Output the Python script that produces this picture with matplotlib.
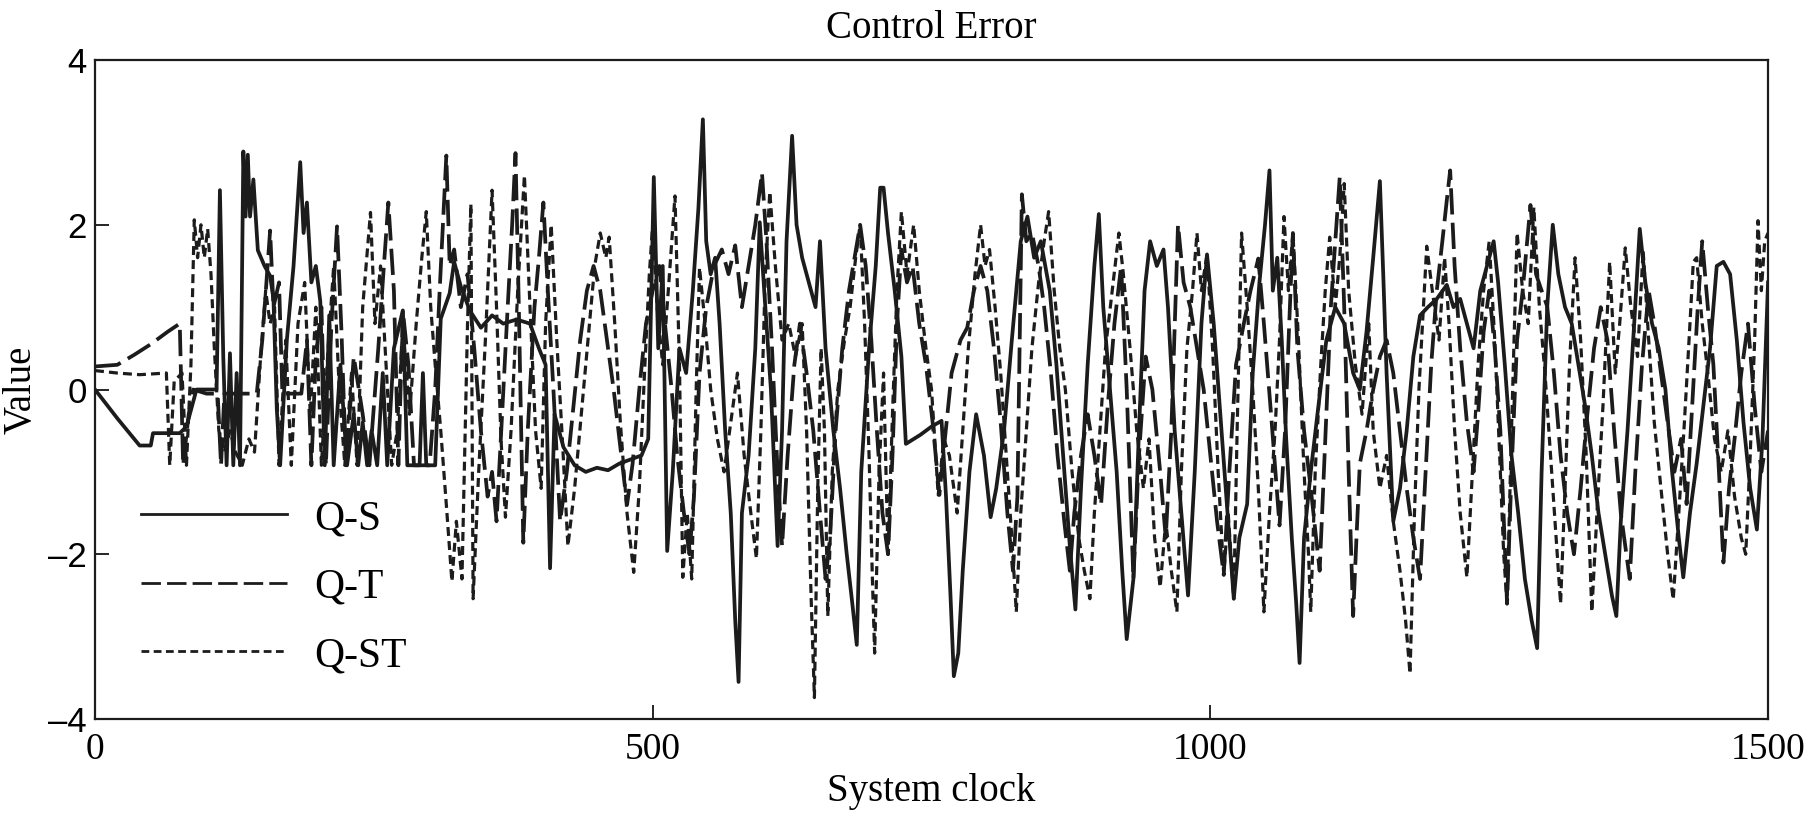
import matplotlib

matplotlib.use("Agg")
import matplotlib.pyplot as plt


# Q-S (solid) turning points
QS_T = [0, 20, 40, 50, 52, 76, 82, 91, 109, 112, 115, 118, 121, 124, 127, 130, 133, 135, 137, 139,
        142, 146, 152, 157, 160, 163, 166, 172, 178, 184, 187, 190, 194, 198, 202, 206, 210, 214, 220, 226,
        232, 236, 240, 244, 248, 253, 258, 262, 268, 276, 280, 291, 294, 297, 305, 310, 318, 322, 328, 336,
        346, 356, 366, 378, 390, 398, 404, 408, 412, 420, 430, 440, 450, 460, 470, 480, 490, 496, 501, 505,
        509, 513, 518, 524, 530, 536, 541, 545, 548, 552, 556, 560, 565, 570, 574, 577, 580, 586, 592, 596,
        600, 606, 612, 616, 620, 625, 629, 634, 640, 646, 650, 655, 662, 668, 674, 679, 683, 687, 694, 700,
        704, 707, 711, 717, 723, 727, 740, 750, 759, 763, 767, 770, 774, 778, 784, 790, 797, 803, 808, 815,
        822, 830, 836, 842, 848, 856, 862, 868, 874, 879, 884, 890, 896, 900, 904, 910, 916, 921, 925, 931,
        936, 941, 946, 952, 958, 962, 968, 974, 980, 986, 992, 997, 1003, 1010, 1016, 1021, 1026, 1033, 1038, 1044,
        1049, 1053, 1056, 1060, 1064, 1068, 1073, 1077, 1080, 1084, 1090, 1096, 1104, 1112, 1120, 1128, 1134, 1140, 1146, 1152,
        1155, 1158, 1164, 1170, 1176, 1182, 1188, 1195, 1203, 1212, 1218, 1224, 1230, 1236, 1242, 1248, 1254, 1258, 1264, 1270,
        1276, 1282, 1288, 1293, 1297, 1302, 1307, 1312, 1318, 1324, 1330, 1336, 1342, 1348, 1354, 1360, 1364, 1368, 1374, 1380,
        1385, 1390, 1396, 1402, 1408, 1414, 1420, 1424, 1430, 1436, 1442, 1448, 1454, 1460, 1466, 1472, 1478, 1484, 1490, 1495,
        1500]
QS_V = [0.0, -0.35, -0.68, -0.68, -0.53, -0.53, -0.45, 0.0, 0.0, 2.42, 0.4, -0.92, 0.44, -0.92, 0.2, -0.92, 2.89, 2.1, 2.85, 2.1,
        2.55, 1.69, 1.5, 1.38, 1.1, -0.24, -0.92, 0.6, 1.5, 2.76, 1.9, 2.27, 1.3, 1.5, 1.07, -0.92, 0.9, -0.92, 0.3, -0.92,
        -0.3, -0.92, -0.4, -0.92, -0.5, -0.92, 0.2, -0.92, 0.5, 0.96, -0.92, -0.92, 0.2, -0.92, -0.92, 0.86, 1.17, 1.55, 1.25, 0.96,
        0.75, 0.9, 0.8, 0.85, 0.8, 0.5, 0.3, -2.17, -0.3, -0.7, -0.92, -1.0, -0.95, -0.98, -0.9, -0.85, -0.8, -0.6, 2.58, 0.5,
        1.5, -1.96, -1.0, 0.5, 0.2, 1.2, 2.2, 3.28, 1.8, 1.4, 1.6, 0.8, -0.5, -1.5, -2.8, -3.55, -1.5, -0.8, 0.5, 2.03,
        1.2, 0.0, -1.9, -0.5, 1.8, 3.08, 2.0, 1.6, 1.3, 1.0, 1.8, 0.5, -0.5, -1.2, -2.0, -2.6, -3.1, -1.0, 0.5, 1.5,
        2.45, 2.45, 1.9, 1.2, 0.4, -0.66, -0.55, -0.45, -0.38, -1.3, -2.5, -3.48, -3.2, -2.2, -1.0, -0.3, -0.8, -1.55, -1.2, -0.5,
        0.6, 1.8, 2.1, 1.6, 1.8, 1.2, 0.3, -0.8, -1.9, -2.67, -1.2, 0.3, 1.5, 2.13, 1.0, 0.0, -1.0, -2.2, -3.03, -2.3,
        -0.5, 1.2, 1.8, 1.5, 1.7, 1.0, -0.5, -1.5, -2.5, -1.0, 0.8, 1.64, 0.8, -0.5, -1.6, -2.54, -1.8, -1.39, 0.2, 1.3,
        2.0, 2.66, 1.2, 1.6, 0.6, -0.6, -1.8, -2.6, -3.32, -1.8, -1.0, -0.3, 0.6, 1.0, 0.8, 0.2, 0.0, 0.7, 1.6, 2.53,
        1.4, 0.2, -1.6, -1.2, -0.5, 0.4, 0.9, 1.0, 1.1, 1.27, 1.0, 1.1, 0.8, 0.5, 1.2, 1.5, 1.8, 1.3, 0.3, -0.8,
        -1.5, -2.3, -2.8, -3.14, -1.0, 1.0, 2.0, 1.4, 1.0, 0.8, 0.3, -0.2, -0.8, -1.5, -2.0, -2.5, -2.75, -1.6, -0.5, 0.8,
        1.95, 1.3, 0.8, 0.5, 0.0, -1.0, -1.8, -2.28, -1.5, -0.9, -0.2, 0.5, 1.5, 1.55, 1.4, 0.6, -0.4, -1.2, -1.7, -0.6,
        1.3]

# Q-T (long dashes)
QT_T = [0, 20, 35, 50, 65, 76, 79, 84, 88, 100, 110, 113, 116, 130, 145, 150, 157, 160, 165, 168,
        185, 190, 194, 198, 203, 207, 212, 217, 221, 225, 232, 240, 246, 254, 259, 263, 268, 272, 276, 281,
        286, 300, 305, 309, 315, 318, 322, 328, 334, 340, 346, 352, 356, 360, 365, 370, 374, 377, 380, 384,
        388, 394, 398, 402, 406, 411, 417, 423, 429, 435, 441, 447, 453, 459, 465, 471, 477, 482, 488, 494,
        500, 506, 511, 517, 522, 528, 533, 537, 542, 548, 555, 562, 568, 574, 580, 586, 592, 598, 602, 607,
        612, 616, 621, 627, 632, 638, 644, 650, 655, 659, 664, 670, 676, 681, 686, 691, 696, 701, 706, 711,
        715, 719, 723, 728, 733, 739, 745, 751, 757, 762, 768, 776, 782, 788, 794, 800, 806, 812, 818, 823,
        827, 831, 835, 840, 846, 851, 857, 863, 869, 874, 878, 884, 890, 896, 902, 908, 914, 920, 925, 931,
        936, 942, 948, 955, 960, 965, 971, 976, 982, 988, 994, 1000, 1006, 1012, 1017, 1023, 1030, 1036, 1043, 1048,
        1055, 1062, 1067, 1071, 1074, 1078, 1084, 1090, 1098, 1104, 1108, 1112, 1116, 1120, 1124, 1128, 1131, 1134, 1140, 1146,
        1152, 1158, 1164, 1170, 1176, 1182, 1188, 1193, 1198, 1203, 1208, 1212, 1215, 1219, 1224, 1230, 1236, 1240, 1245, 1250,
        1255, 1260, 1266, 1270, 1275, 1280, 1287, 1292, 1297, 1302, 1308, 1314, 1320, 1326, 1332, 1338, 1344, 1350, 1356, 1362,
        1368, 1376, 1381, 1387, 1393, 1398, 1404, 1410, 1416, 1422, 1427, 1432, 1437, 1441, 1446, 1451, 1456, 1460, 1465, 1470,
        1476, 1482, 1488, 1494, 1500]
QT_V = [0.28, 0.3, 0.42, 0.55, 0.7, 0.8, -0.92, -0.3, 0.0, -0.05, -0.05, -0.92, -0.05, -0.05, -0.05, 0.6, 1.93, 1.0, 1.3, -0.05,
        -0.05, 0.6, -0.92, 0.4, 1.0, -0.92, 0.8, 1.98, 0.7, -0.92, 0.4, -0.3, -0.92, 0.5, 1.5, 2.27, 1.2, -0.92, 0.96, 0.3,
        -0.92, -0.92, 0.0, 1.2, 2.84, 1.5, 1.7, 1.0, 1.4, 0.5, -0.5, -1.3, -1.0, -1.6, -0.3, 1.0, 2.0, 2.87, 1.0, -1.86,
        -0.5, 1.0, 1.6, 2.27, 1.2, 0.0, -1.6, -1.0, -0.2, 0.6, 1.2, 1.5, 1.2, 0.6, 0.0, -0.7, -1.4, -0.9, 0.0, 0.8,
        1.2, 1.5, 0.8, 0.0, -0.8, -1.5, -2.0, -1.3, 0.2, 1.0, 1.5, 1.7, 1.4, 1.75, 1.0, 1.5, 2.0, 2.63, 1.8, 0.5,
        -1.0, -1.9, -0.8, 0.3, 0.8, 0.2, -0.5, -1.5, -2.3, -1.8, -0.5, 0.5, 1.2, 1.6, 2.0, 1.5, 0.6, -0.5, -1.5, -2.0,
        -0.8, 0.8, 1.7, 1.3, 1.5, 0.8, 0.3, -0.4, -1.28, -0.6, 0.2, 0.6, 0.75, 1.2, 1.5, 1.2, 0.5, -0.4, -1.5, -2.2,
        -1.3, 2.37, 1.8, 1.9, 1.5, 1.0, 0.2, -0.8, -1.6, -2.2, -1.5, -0.8, -0.3, -0.8, -1.4, -0.2, 0.8, 1.5, 0.0, -2.3,
        -0.8, 0.4, 0.0, -1.0, -1.8, -0.5, 2.0, 1.3, 1.0, 0.5, 0.0, -0.8, -1.6, -2.25, -1.0, 0.3, 0.8, 1.2, 1.59, 0.8,
        -0.4, -1.65, -0.5, 0.9, 1.9, 0.5, -0.5, -1.2, -2.2, -0.3, 1.0, 1.8, 2.58, 1.0, -1.0, -2.75, -1.8, -0.9, -0.5, 0.0,
        0.4, 0.6, 0.2, -0.5, -1.2, -1.8, -2.3, -1.0, 0.3, 1.2, 1.8, 2.3, 2.66, 1.5, 0.5, -0.4, -1.0, -0.3, 0.7, 1.2,
        0.5, -0.5, -2.6, -1.0, 0.6, 1.2, 2.24, 1.4, 1.2, 1.01, 0.2, -0.8, -1.5, -2.0, -1.2, -0.3, 0.5, 1.0, 0.6, -0.5,
        -1.5, -2.3, -1.0, 0.3, 1.2, 0.8, 0.2, -0.4, -1.0, -0.6, -1.39, -0.2, 1.0, 1.8, 1.0, 0.3, -1.0, -2.1, -1.2, -0.6,
        0.2, 0.8, -0.2, -1.0, -0.5]

# Q-ST (short dashes)
QST_T = [0, 20, 40, 64, 67, 71, 78, 82, 86, 89, 92, 95, 98, 101, 104, 107, 111, 116, 121, 126,
         132, 138, 143, 148, 153, 157, 161, 165, 171, 176, 182, 188, 193, 198, 203, 209, 214, 219, 224, 230,
         235, 240, 247, 251, 256, 261, 266, 271, 276, 282, 288, 293, 297, 301, 305, 310, 315, 320, 324, 329,
         334, 337, 339, 344, 350, 356, 360, 364, 368, 373, 379, 385, 390, 395, 400, 404, 409, 414, 419, 424,
         430, 436, 442, 448, 453, 458, 461, 466, 471, 477, 483, 488, 493, 497, 500, 504, 509, 514, 520, 524,
         527, 531, 535, 539, 542, 547, 552, 558, 564, 570, 576, 582, 588, 593, 597, 601, 605, 610, 616, 622,
         628, 634, 638, 642, 645, 648, 651, 654, 657, 661, 666, 672, 677, 682, 686, 690, 694, 697, 699, 703,
         707, 711, 715, 719, 723, 728, 734, 739, 745, 750, 756, 761, 766, 773, 778, 783, 789, 794, 798, 802,
         807, 812, 817, 822, 826, 830, 835, 840, 846, 851, 855, 860, 865, 870, 876, 882, 887, 892, 896, 901,
         906, 912, 918, 922, 928, 934, 940, 945, 950, 955, 960, 965, 970, 974, 979, 984, 988, 992, 997, 1002,
         1007, 1012, 1016, 1021, 1024, 1028, 1033, 1038, 1043, 1048, 1053, 1058, 1062, 1066, 1070, 1074, 1079, 1084, 1088, 1090,
         1094, 1099, 1103, 1107, 1112, 1116, 1120, 1124, 1130, 1136, 1142, 1146, 1152, 1158, 1164, 1170, 1175, 1179, 1183, 1187,
         1191, 1194, 1199, 1205, 1210, 1214, 1219, 1224, 1230, 1235, 1240, 1245, 1250, 1255, 1260, 1263, 1266, 1270, 1275, 1280,
         1285, 1290, 1295, 1300, 1305, 1310, 1314, 1318, 1322, 1327, 1332, 1337, 1342, 1347, 1352, 1358, 1363, 1367, 1372, 1377,
         1383, 1388, 1393, 1398, 1404, 1410, 1415, 1420, 1425, 1430, 1433, 1436, 1441, 1446, 1452, 1458, 1464, 1470, 1476, 1480,
         1484, 1488, 1491, 1494, 1497, 1500]
QST_V = [0.23, 0.2, 0.18, 0.2, -0.92, 0.1, 0.2, -0.92, 0.3, 2.06, 1.6, 2.0, 1.6, 1.95, 1.4, 0.5, -0.5, -0.76, -0.5, -0.76,
         -0.92, -0.6, -0.76, 0.3, 1.2, 0.8, 1.0, -0.92, 0.6, -0.92, 0.8, 1.3, -0.3, 1.0, -0.92, 0.5, 1.5, 0.0, -0.92, 0.2,
         -0.92, 1.0, 2.15, 0.8, 1.5, 0.3, -0.92, -0.5, 0.8, -0.3, 0.8, 1.6, 2.16, 1.0, 0.3, -0.5, -1.4, -2.33, -1.6, -2.3,
         0.8, 2.25, -2.54, -1.0, 0.6, 2.42, 1.0, -0.6, -1.55, -0.5, 1.2, 2.6, 1.0, -0.5, -1.2, 0.8, 2.0, 0.6, -0.6, -1.9,
         -1.2, -0.3, 0.6, 1.5, 1.9, 1.6, 1.85, 0.8, -0.4, -1.5, -2.22, -1.2, 0.3, 1.4, 2.0, 1.0, 0.3, 1.2, 2.35, 0.3,
         -2.28, -1.5, -2.3, 0.0, 1.48, 0.8, 0.0, -0.6, -1.0, -0.4, 0.2, -0.8, -1.5, -2.05, -0.5, 1.4, 2.4, 1.5, 0.6, 0.8,
         0.4, 0.8, -0.5, -2.5, -3.74, -1.2, 0.5, -0.5, -2.75, -1.0, 0.0, 0.6, 1.0, 1.6, 2.0, 0.8, -0.8, -2.3, -3.2, -1.0,
         0.2, -2.0, -0.3, 1.2, 2.16, 1.4, 2.0, 1.2, 0.5, 0.0, -1.28, -0.6, -0.8, -1.5, -0.5, 0.5, 1.4, 2.0, 1.5, 1.7,
         1.0, 0.2, -0.8, -1.8, -2.7, -1.5, -0.5, 0.5, 1.3, 1.8, 2.16, 1.2, 0.5, 0.0, -1.0, -1.8, -2.2, -2.54, -1.5, -0.5,
         0.5, 1.2, 1.9, 1.4, 0.5, -0.5, -1.2, -0.6, -1.8, -2.4, -1.6, -2.2, -2.7, -1.0, 0.5, 1.2, 1.9, 1.2, 1.64, 0.5,
         -1.0, -2.25, -1.5, -2.54, -0.5, 1.9, 1.0, 0.0, -1.2, -2.7, -1.5, -0.5, 0.6, 2.1, 1.2, 1.9, 0.6, -1.0, -2.0, -2.7,
         -1.0, 0.3, 1.2, 1.85, 1.0, 1.6, 2.5, 1.2, 0.3, -0.3, 0.8, -0.5, -1.2, -0.8, -1.6, -2.2, -2.8, -3.45, -1.5, 0.0,
         1.0, 1.74, 1.2, 0.6, 1.6, 0.8, -0.5, -1.5, -2.28, -1.0, 0.3, 1.2, 1.8, 0.6, -1.0, -2.0, -2.6, -0.5, 1.9, 1.2,
         0.8, 2.21, 1.0, 0.2, -0.8, -1.8, -2.6, -1.2, 0.3, 1.6, 0.6, -0.8, -2.7, -1.4, -0.2, 1.55, 0.2, 0.8, 1.72, 1.0,
         0.4, 1.69, 0.6, -0.4, -1.2, -2.0, -2.55, -1.5, -0.4, 0.8, 1.55, 1.6, 0.8, 0.2, -0.6, -1.0, -0.5, -1.3, -1.8, -2.0,
         -0.8, 0.6, 2.05, 1.2, 1.8, 1.9]

SERIES_LABELS = ["Q-S", "Q-T", "Q-ST"]
X_TICKS = [0, 500, 1000, 1500]
Y_TICKS = [-4, -2, 0, 2, 4]

SERIF = "Liberation Serif"
SANS = "Liberation Sans"
INK = "#1c1c1c"

fig = plt.figure(figsize=(18.13, 8.19), dpi=100)
ax = fig.add_axes([0.0524, 0.1221, 0.9228, 0.8046])

ax.plot(QS_T, QS_V, color=INK, lw=2.7, label=SERIES_LABELS[0])
ax.plot(QT_T, QT_V, color=INK, lw=2.7, dashes=(7, 2.2), label=SERIES_LABELS[1])
ax.plot(QST_T, QST_V, color=INK, lw=2.3, dashes=(2.8, 1.6), label=SERIES_LABELS[2])

ax.set_xlim(0, 1500)
ax.set_ylim(-4, 4)
ax.set_xticks(X_TICKS)
ax.set_yticks(Y_TICKS)
ax.set_xticklabels([str(v) for v in X_TICKS], family=SERIF, fontsize=27)
ax.set_yticklabels([f"\u2013{abs(v)}" if v < 0 else str(v) for v in Y_TICKS],
                   family=SANS, fontsize=25)
ax.tick_params(direction="in", length=10, width=1.2, top=False, right=False)
ax.tick_params(axis="x", pad=10)
ax.tick_params(axis="y", pad=6)
for spine in ax.spines.values():
    spine.set_linewidth(1.6)
    spine.set_color(INK)

ax.set_title("Control Error", family=SERIF, fontsize=28, pad=16)
ax.set_xlabel("System clock", family=SERIF, fontsize=28, labelpad=4)
ax.set_ylabel("Value", family=SERIF, fontsize=28, labelpad=6)

leg = ax.legend(loc="upper left", bbox_to_anchor=(0.0275, 0.333), frameon=False,
                handlelength=3.5, handletextpad=0.65, labelspacing=0.72,
                borderpad=0, borderaxespad=0, prop={"family": SERIF, "size": 30})
for line in leg.get_lines():
    line.set_linewidth(2.0)

fig.savefig("out.png", dpi=100, facecolor="white")
